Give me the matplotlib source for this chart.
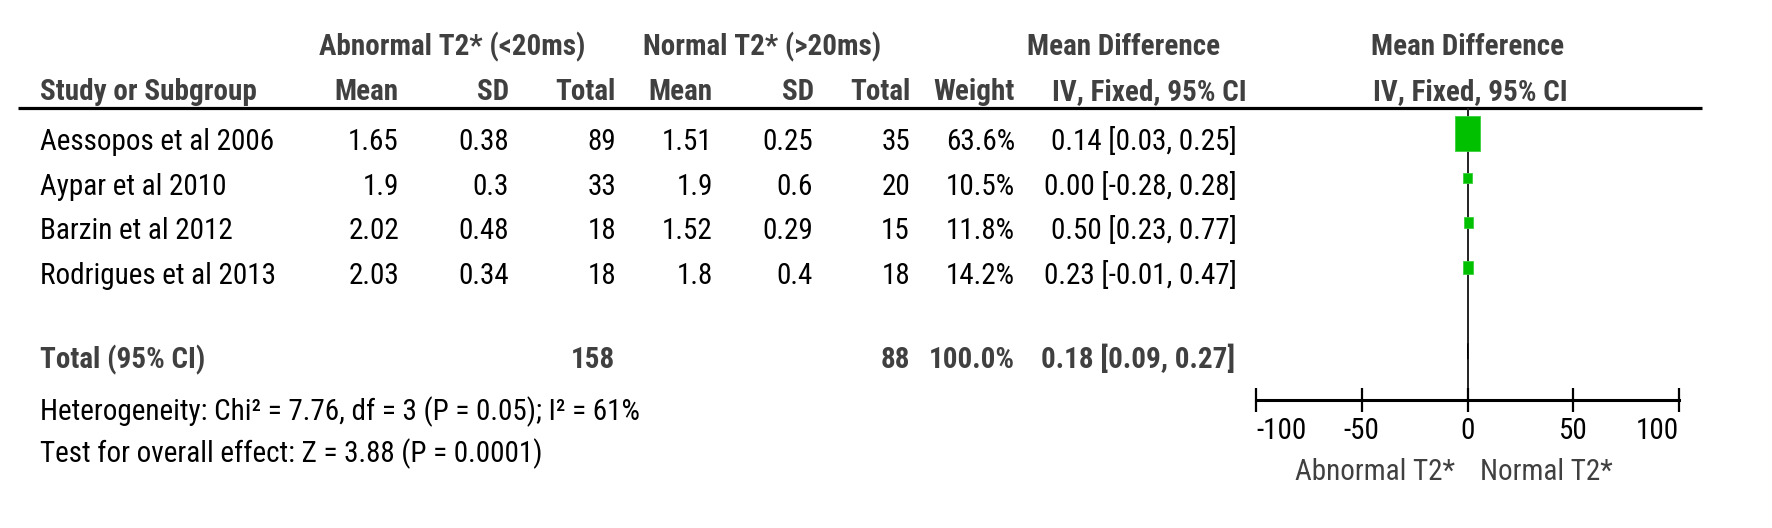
import matplotlib
matplotlib.use("Agg")
import matplotlib.pyplot as plt
from matplotlib import font_manager
from matplotlib.patches import Rectangle, Polygon
import numpy as np

# ---------------- data ----------------
studies = ["Aessopos et al 2006", "Aypar et al 2010", "Barzin et al 2012", "Rodrigues et al 2013"]
abn_mean = ["1.65", "1.9", "2.02", "2.03"]
abn_sd = ["0.38", "0.3", "0.48", "0.34"]
abn_total = [89, 33, 18, 18]
nor_mean = ["1.51", "1.9", "1.52", "1.8"]
nor_sd = ["0.25", "0.6", "0.29", "0.4"]
nor_total = [35, 20, 15, 18]
weights = [63.6, 10.5, 11.8, 14.2]
md = [0.14, 0.00, 0.50, 0.23]
ci_lo = [0.03, -0.28, 0.23, -0.01]
ci_hi = [0.25, 0.28, 0.77, 0.47]
total_abn = 158
total_nor = 88
total_weight = 100.0
total_md = 0.18
total_lo = 0.09
total_hi = 0.27
heterogeneity = "Heterogeneity: Chi² = 7.76, df = 3 (P = 0.05); I² = 61%"
overall = "Test for overall effect: Z = 3.88 (P = 0.0001)"
x_ticks = [-100, -50, 0, 50, 100]
favours_left = "Abnormal T2*"
favours_right = "Normal T2*"

# ---------------- font ----------------
family = "DejaVu Sans"
for cand in ["Liberation Sans Narrow", "Roboto Condensed", "Open Sans Condensed", "Liberation Sans", "Roboto"]:
    try:
        font_manager.findfont(cand, fallback_to_default=False)
        family = cand
        break
    except Exception:
        pass
plt.rcParams["font.family"] = [family, "DejaVu Sans"]

W, H = 1772, 528
fig = plt.figure(figsize=(W / 100, H / 100), dpi=100)
fig.patch.set_facecolor("white")

# text layer in pixel coordinates
ax = fig.add_axes([0, 0, 1, 1])
ax.set_xlim(0, W)
ax.set_ylim(H, 0)
ax.axis("off")

HEAD = "#404040"
FS = 21

row0 = 133.3
dy = 44.7
base_off = 16.7

def row_base(i):
    return row0 + dy * i + base_off

# headers
ax.text(452, 55, "Abnormal T2* (<20ms)", ha="center", va="baseline", fontsize=FS, fontweight="bold", color=HEAD)
ax.text(762, 55, "Normal T2* (>20ms)", ha="center", va="baseline", fontsize=FS, fontweight="bold", color=HEAD)
ax.text(1124, 55, "Mean Difference", ha="center", va="baseline", fontsize=FS, fontweight="bold", color=HEAD)
ax.text(1468, 55, "Mean Difference", ha="center", va="baseline", fontsize=FS, fontweight="bold", color=HEAD)

hdr2 = [(40, "Study or Subgroup", "left"), (399, "Mean", "right"), (509, "SD", "right"), (616, "Total", "right"),
        (713, "Mean", "right"), (814, "SD", "right"), (911, "Total", "right"), (1015, "Weight", "right"),
        (1247, "IV, Fixed, 95% CI", "right"), (1470, "IV, Fixed, 95% CI", "center")]
for x, s, ha in hdr2:
    ax.text(x, 100, s, ha=ha, va="baseline", fontsize=FS, fontweight="bold", color=HEAD)

ax.plot([18, 1702], [108, 108], color="black", lw=2.3, solid_capstyle="butt")

# rows
for i, name in enumerate(studies):
    yb = row_base(i)
    ax.text(40, yb, name, ha="left", va="baseline", fontsize=FS, color="black")
    cols = [(399, abn_mean[i]), (509, abn_sd[i]), (616, str(abn_total[i])),
            (713, nor_mean[i]), (813, nor_sd[i]), (910, str(nor_total[i])),
            (1015, f"{weights[i]:.1f}%"),
            (1237, f"{md[i]:.2f} [{ci_lo[i]:.2f}, {ci_hi[i]:.2f}]")]
    for x, s in cols:
        ax.text(x, yb, s, ha="right", va="baseline", fontsize=FS, color="black")

# total row
ty = 368
ax.text(40, ty, "Total (95% CI)", ha="left", va="baseline", fontsize=FS, fontweight="bold", color=HEAD)
ax.text(615, ty, str(total_abn), ha="right", va="baseline", fontsize=FS, fontweight="bold", color=HEAD)
ax.text(910, ty, str(total_nor), ha="right", va="baseline", fontsize=FS, fontweight="bold", color=HEAD)
ax.text(1015, ty, f"{total_weight:.1f}%", ha="right", va="baseline", fontsize=FS, fontweight="bold", color=HEAD)
ax.text(1235, ty, f"{total_md:.2f} [{total_lo:.2f}, {total_hi:.2f}]", ha="right", va="baseline",
        fontsize=FS, fontweight="bold", color=HEAD)

ax.text(40, 420, heterogeneity, ha="left", va="baseline", fontsize=FS, color="black")
ax.text(40, 462, overall, ha="left", va="baseline", fontsize=FS, color="black")

ax.text(1455, 480, favours_left, ha="right", va="baseline", fontsize=FS, color=HEAD)
ax.text(1480, 480, favours_right, ha="left", va="baseline", fontsize=FS, color=HEAD)

# ---------------- forest axes ----------------
x0, x1 = 1256, 1679
ytop, ybot = 108, 400
fx = fig.add_axes([x0 / W, 1 - ybot / H, (x1 - x0) / W, (ybot - ytop) / H])
fx.set_xlim(-100, 100)
fx.set_ylim((ybot - row0) / dy, -(row0 - ytop) / dy)
fx.patch.set_alpha(0)
for s in ["left", "right", "top"]:
    fx.spines[s].set_visible(False)
fx.spines["bottom"].set_linewidth(2.2)
fx.set_yticks([])
fx.set_xticks(x_ticks)
fx.set_xticklabels([str(t) for t in x_ticks])
fx.tick_params(axis="x", direction="inout", length=17, width=1.6, pad=4, labelsize=FS, colors="black")
labs = fx.get_xticklabels()
labs[0].set_ha("left")
labs[-1].set_ha("right")

fx.axvline(0, color="#222222", lw=1.4, zorder=1)

px_per_unit_x = (x1 - x0) / 200.0
px_per_unit_y = dy
for i in range(len(studies)):
    sw = np.sqrt(weights[i])
    wpx = 3.38 * sw - 2.0
    hpx = 5.18 * sw - 6.3
    wd = wpx / px_per_unit_x
    hd = hpx / px_per_unit_y
    fx.plot([ci_lo[i], ci_hi[i]], [i, i], color="#222222", lw=1.2, zorder=2)
    fx.add_patch(Rectangle((md[i] - wd / 2, i - hd / 2), wd, hd, facecolor="#00C000",
                           edgecolor="#3ccf3c", lw=0.6, zorder=3))

# pooled diamond
trow = (ty - base_off - row0) / dy
dh = 8 / px_per_unit_y
fx.add_patch(Polygon([[total_lo, trow], [total_md, trow - dh], [total_hi, trow], [total_md, trow + dh]],
                     closed=True, facecolor="black", edgecolor="black", lw=0.5, zorder=3))

fig.savefig("out.png", dpi=100, facecolor="white")
